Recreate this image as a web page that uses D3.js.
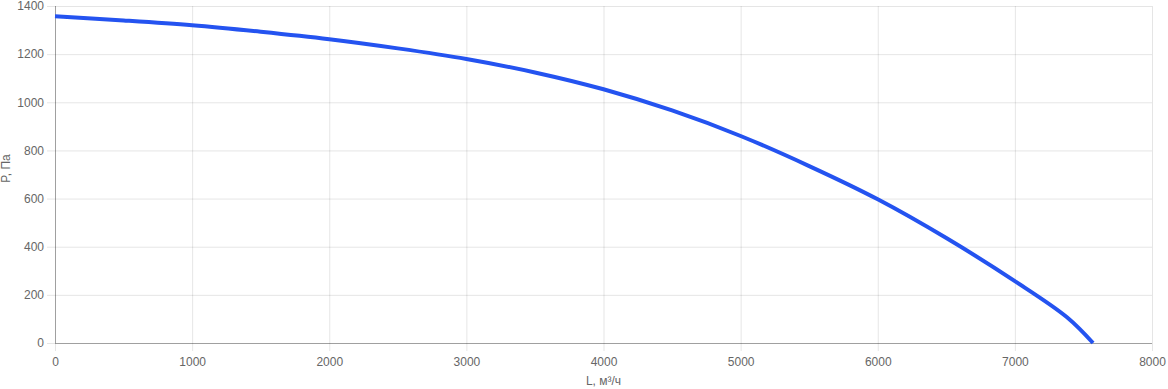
<!DOCTYPE html>
<html>
<head>
<meta charset="utf-8">
<script src="https://cdn.jsdelivr.net/npm/d3@7"></script>
<style>
  body { margin: 0; background: #fff; }
  text { font-family: "Liberation Sans", Arial, sans-serif; font-size: 12px; fill: #666; }
</style>
</head>
<body>
<div id="chart"></div>
<script>
var svgWidth = 1168;
var svgHeight = 389;

var margin = { top: 6, right: 16, bottom: 46, left: 55 };

var width = svgWidth - margin.left - margin.right;
var height = svgHeight - margin.top - margin.bottom;

// fan curve
var flow = [0, 500, 1000, 1500, 2000, 2500, 3000, 3500, 4000, 4500, 5000, 5500, 6000, 6500, 7000, 7380, 7570];
var pressure = [1357, 1340, 1320, 1293, 1262, 1224, 1180, 1124, 1054, 966, 860, 735, 597, 436, 257, 107, 0];

var xTicks = [0, 1000, 2000, 3000, 4000, 5000, 6000, 7000, 8000];
var yTicks = [0, 200, 400, 600, 800, 1000, 1200, 1400];

var xLabel = "L, м³/ч";
var yLabel = "P, Па";

var svg = d3.select("#chart")
  .append("svg")
  .attr("width", svgWidth)
  .attr("height", svgHeight);

var chartGroup = svg.append("g")
  .attr("transform", `translate(${margin.left}, ${margin.top})`);

var xLinearScale = d3.scaleLinear().domain([0, 8000]).range([0, width]);
var yLinearScale = d3.scaleLinear().domain([0, 1400]).range([height, 0]);

// grid lines (extend outside as tick marks)
var bottomAxis = d3.axisBottom(xLinearScale)
  .tickValues(xTicks)
  .tickFormat(d3.format("d"))
  .tickSizeInner(height + 8)
  .tickSizeOuter(0)
  .tickPadding(6);

var leftAxis = d3.axisLeft(yLinearScale)
  .tickValues(yTicks)
  .tickFormat(d3.format("d"))
  .tickSizeInner(width + 8)
  .tickSizeOuter(0)
  .tickPadding(3);

var xAxis = chartGroup.append("g")
  .call(bottomAxis);

var yAxis = chartGroup.append("g")
  .attr("transform", `translate(${width}, 0)`)
  .call(leftAxis);

[xAxis, yAxis].forEach(function(ax) {
  ax.select(".domain").remove();
  ax.selectAll("line").attr("stroke", "rgba(0,0,0,0.1)");
  ax.selectAll("text")
    .attr("fill", "#666")
    .style("font-size", "12px")
    .style("font-family", "'Liberation Sans', Arial, sans-serif");
});

// zero lines
chartGroup.append("line")
  .attr("x1", 0).attr("x2", width)
  .attr("y1", height + 0.5).attr("y2", height + 0.5)
  .attr("stroke", "rgba(0,0,0,0.3)");
chartGroup.append("line")
  .attr("x1", 0.5).attr("x2", 0.5)
  .attr("y1", 0).attr("y2", height)
  .attr("stroke", "rgba(0,0,0,0.3)");

// curve
var points = flow.map((f, i) => [f, pressure[i]]);
var line = d3.line()
  .x(d => xLinearScale(d[0]))
  .y(d => yLinearScale(d[1]))
  .curve(d3.curveCatmullRom.alpha(0.5));

chartGroup.append("path")
  .datum(points)
  .attr("fill", "none")
  .attr("stroke", "#2453f0")
  .attr("stroke-width", 4)
  .attr("stroke-linejoin", "round")
  .attr("d", line);

// axis titles
chartGroup.append("text")
  .attr("x", width / 2)
  .attr("y", height + 42)
  .attr("text-anchor", "middle")
  .text(xLabel);

chartGroup.append("text")
  .attr("transform", "rotate(-90)")
  .attr("x", -(height / 2) + 6)
  .attr("y", -45)
  .attr("text-anchor", "middle")
  .text(yLabel);
</script>
</body>
</html>
